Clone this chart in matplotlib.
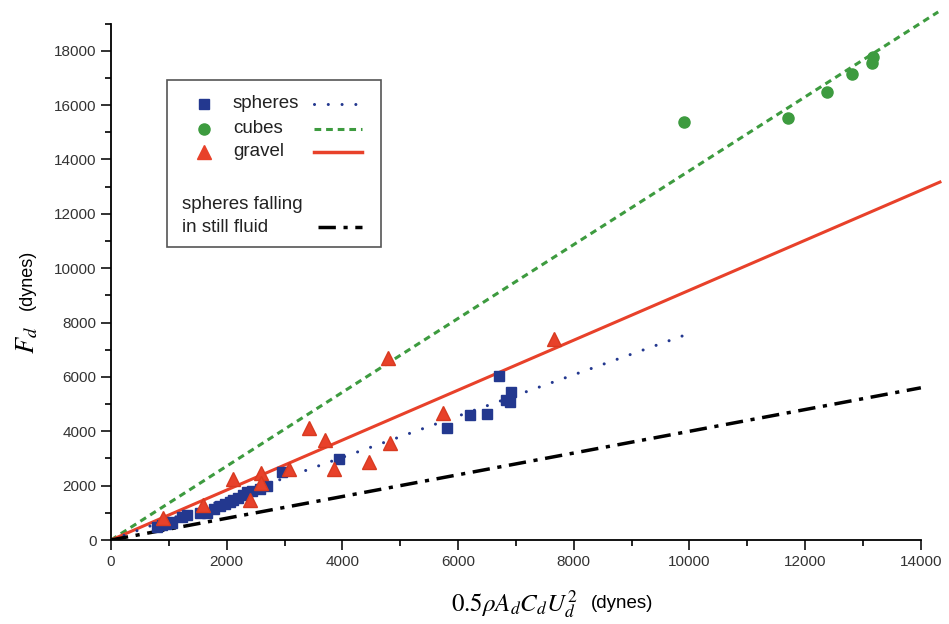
import matplotlib
matplotlib.use("Agg")
import matplotlib.pyplot as plt
from matplotlib.patches import Rectangle
from matplotlib.lines import Line2D

plt.rcParams["font.family"] = ["Liberation Sans", "DejaVu Sans"]
plt.rcParams["mathtext.fontset"] = "stix"

# measured drag force vs. predicted drag, per particle type
spheres_x = [800, 880, 950, 1020, 1060, 1230, 1310, 1540, 1660, 1780, 1880, 1970,
             2050, 2110, 2200, 2280, 2350, 2430, 2580, 2700, 2960, 3940, 5810,
             6210, 6500, 6710, 6830, 6900, 6920]
spheres_y = [480, 550, 600, 660, 620, 850, 920, 990, 1000, 1150, 1250, 1330,
             1400, 1470, 1550, 1660, 1770, 1800, 1880, 1990, 2500, 2980, 4120,
             4600, 4640, 6040, 5150, 5080, 5450]

cubes_x = [9900, 11700, 12380, 12810, 13150, 13170]
cubes_y = [15390, 15530, 16490, 17150, 17560, 17780]

gravel_x = [900, 1590, 2110, 2400, 2590, 2590, 3080, 3420, 3700, 3850, 4460,
            4790, 4820, 5740, 7660]
gravel_y = [810, 1290, 2250, 1470, 2470, 2100, 2610, 4120, 3670, 2610, 2870,
            6700, 3580, 4670, 7390]

# fitted lines through the origin: end points (x, y)
fit_spheres = (10000, 7600)
fit_cubes = (14300, 19430)
fit_gravel = (14330, 13170)
fit_still = (14000, 5600)

BLUE = "#23388f"
GREEN = "#3d9b3f"
RED = "#e8412a"

W, H = 949, 624
fig = plt.figure(figsize=(W / 100, H / 100), dpi=100)
ax = fig.add_axes([111 / W, 1 - 540 / H, (944 - 111) / W, (540 - 10) / H])

ax.plot([0, fit_cubes[0]], [0, fit_cubes[1]], color=GREEN, lw=2.2,
        dashes=(2.2, 1.6), zorder=2)
ax.plot([0, fit_gravel[0]], [0, fit_gravel[1]], color=RED, lw=2.2, zorder=2)
ax.plot([0, fit_spheres[0]], [0, fit_spheres[1]], color=BLUE, lw=2.2,
        dashes=(0.01, 4.5), dash_capstyle="round", zorder=2)
ax.plot([0, fit_still[0]], [0, fit_still[1]], color="black", lw=2.5,
        dashes=(5, 2.2, 1.2, 2.2), zorder=2)

ax.plot(spheres_x, spheres_y, "s", color=BLUE, ms=7.5, mec=BLUE, zorder=3)
ax.plot(cubes_x, cubes_y, "o", color=GREEN, ms=8, mec=GREEN, zorder=3)
ax.plot(gravel_x, gravel_y, "^", color=RED, ms=10, mec="#d83a20", zorder=4)

ax.set_xlim(0, 14400)
ax.set_ylim(0, 19500)
ax.spines["top"].set_visible(False)
ax.spines["right"].set_visible(False)
ax.spines["bottom"].set_bounds(0, 14000)
ax.spines["left"].set_bounds(0, 19000)
for s in ("left", "bottom"):
    ax.spines[s].set_linewidth(1.3)
ax.set_xticks(range(0, 14001, 2000))
ax.set_xticks(range(1000, 14000, 2000), minor=True)
ax.set_yticks(range(0, 18001, 2000))
ax.set_yticks(range(1000, 19001, 2000), minor=True)
ax.tick_params(which="major", direction="out", length=7, width=1.3,
               labelsize=11, color="#222222", labelcolor="#333333")
ax.tick_params(which="minor", direction="out", length=4, width=1.2)

fig.text(577 / W, 1 - 604 / H, r"$0.5\rho A_d C_d U_d^2$", fontsize=18,
         ha="right", va="center")
fig.text(591 / W, 1 - 603 / H, "(dynes)", fontsize=13.5, ha="left",
         va="center")
fig.text(27 / W, 1 - 340 / H, r"$F_d$", fontsize=19, rotation=90,
         ha="center", va="center")
fig.text(27 / W, 1 - 280 / H, "(dynes)", fontsize=13, rotation=90,
         ha="center", va="center")


def fx(px):
    return px / W


def fy(py):
    return 1 - py / H


# legend box drawn in figure coordinates
fig.patches.append(Rectangle((fx(167), fy(247)), fx(381) - fx(167),
                             fy(80) - fy(247), transform=fig.transFigure,
                             fill=True, facecolor="white",
                             edgecolor="#555555", lw=1.2, zorder=5))

rows = [
    ("spheres", 104, dict(marker="s", color=BLUE, ms=7.5),
     dict(color=BLUE, lw=2.2, dashes=(0.01, 4.5), dash_capstyle="round")),
    ("cubes", 129, dict(marker="o", color=GREEN, ms=8),
     dict(color=GREEN, lw=2.2, dashes=(2.2, 1.6))),
    ("gravel", 152, dict(marker="^", color=RED, ms=10),
     dict(color=RED, lw=2.5)),
]
for label, py, mk, ln in rows:
    fig.add_artist(Line2D([fx(204)], [fy(py)], transform=fig.transFigure,
                          linestyle="none", zorder=6, **mk))
    fig.text(fx(233), fy(py), label, fontsize=13.5, ha="left", va="center",
             zorder=6, color="#222222")
    fig.add_artist(Line2D([fx(314), fx(362)], [fy(py), fy(py)],
                          transform=fig.transFigure, zorder=6, **ln))

fig.text(fx(182), fy(205), "spheres falling", fontsize=13.5, ha="left",
         va="center", zorder=6, color="#222222")
fig.text(fx(182), fy(227), "in still fluid", fontsize=13.5, ha="left",
         va="center", zorder=6, color="#222222")
fig.add_artist(Line2D([fx(318), fx(362)], [fy(227), fy(227)],
                      transform=fig.transFigure, color="black", lw=2.5,
                      dashes=(5, 2.2, 1.2, 2.2), zorder=6))

fig.savefig("out.png", dpi=100)
